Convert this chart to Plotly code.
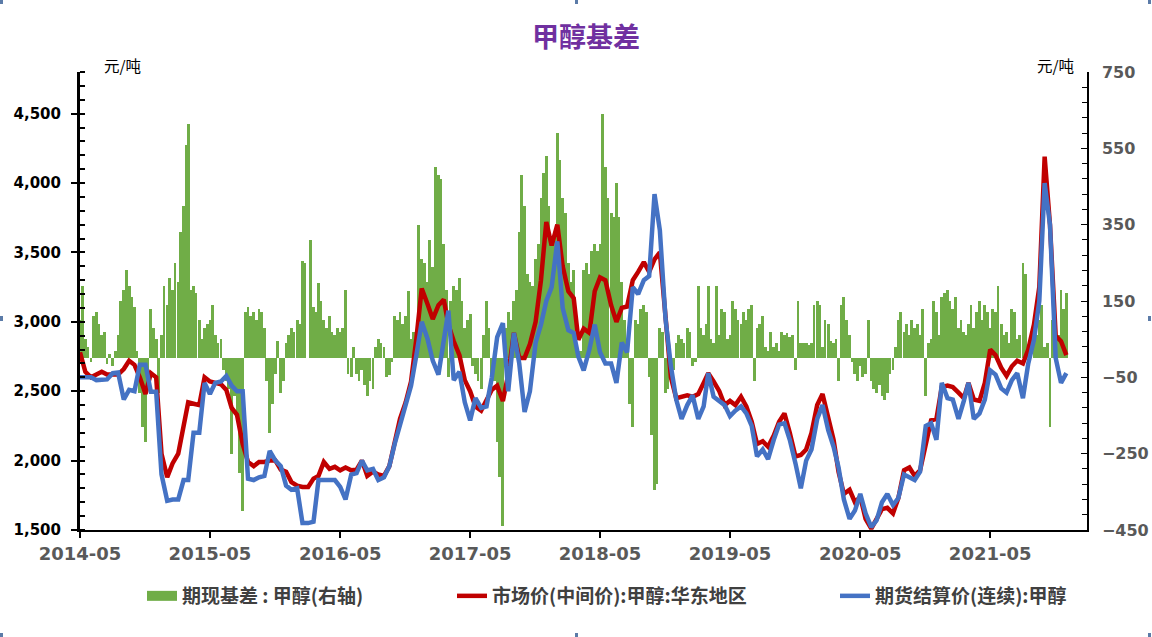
import pandas as pd
import plotly.graph_objects as go

# ---------------- data ----------------
title_text = "甲醇基差"
basis_name = "期现基差 : 甲醇(右轴)"
spot_name = "市场价(中间价):甲醇:华东地区"
fut_name = "期货结算价(连续):甲醇"
unit_text = "元/吨"
first_month = "2014-05-01"

# 市场价(中间价):甲醇:华东地区, two readings per month (1st, 16th)
spot = [
    2780, 2640, 2600, 2620, 2640, 2620, 2620, 2620, 2660, 2720, 2690, 2600,
    2480, 2630, 2600, 2050, 1880, 1980, 2050, 2250, 2420, 2410, 2400, 2600,
    2570, 2560, 2550, 2510, 2380, 2330, 2120, 1990, 1960, 1990, 1990, 2000,
    2000, 1935, 1920, 1845, 1820, 1810, 1810, 1870, 1890, 1990, 1940, 1955,
    1930, 1950, 1930, 1935, 2000, 1890, 1920, 1900, 1890, 1960, 2150, 2300,
    2420, 2570, 2880, 3240, 3130, 3020, 3120, 3160, 2980, 2860, 2760, 2580,
    2500, 2390, 2360, 2440, 2510, 2540, 2430, 2620, 2920, 2740, 2740, 2840,
    3000, 3300, 3720, 3550, 3700, 3400, 3220, 3170, 2870, 2950, 2920, 3220,
    3320, 3300, 3120, 3000, 3100, 3110, 3300, 3360, 3430, 3360, 3450, 3500,
    3000, 2600, 2450, 2460, 2470, 2460, 2480, 2560, 2630, 2570, 2500, 2400,
    2430, 2400, 2460, 2390, 2280, 2120, 2140, 2100, 2180, 2280, 2340, 2200,
    2030, 2040, 2080, 2200, 2400, 2480, 2300, 2150, 1920, 1760, 1790, 1700,
    1740, 1580, 1510, 1580, 1650, 1660, 1620, 1730, 1930, 1950, 1890, 1930,
    2100, 2290, 2300, 2530, 2540, 2530, 2490, 2450, 2560, 2440, 2430, 2560,
    2800, 2760, 2670, 2610, 2680, 2720, 2700, 2800, 2980, 3250, 4190, 3700,
    2900, 2860, 2760,
]

# 期货结算价(连续):甲醇, two readings per month
futures = [
    2600, 2600, 2600, 2580, 2585, 2585, 2630, 2635, 2440, 2510, 2500, 2690,
    2690, 2497, 2497, 1900, 1710, 1720, 1720, 1860, 1860, 2200, 2200, 2560,
    2480, 2560, 2570, 2610, 2540, 2500, 2500, 1870, 1860, 1880, 1890, 2070,
    2000, 1960, 1820, 1790, 1800, 1550, 1550, 1560, 1860, 1860, 1860, 1860,
    1810, 1720, 1900, 1910, 2000, 1930, 1940, 1860, 1880, 1960, 2120, 2260,
    2380, 2540, 2760, 3000, 2880, 2720, 2620, 2850, 3080, 2580, 2640, 2420,
    2290, 2450, 2380, 2390, 2600, 2890, 2990, 2500, 2920, 2700, 2350, 2500,
    2850, 2980, 3150, 3250, 3580, 3100, 2940, 2920, 2750, 2650, 2800, 2980,
    2780, 2700, 2700, 2560, 2850, 2780, 3250, 3200, 3300, 3330, 3920, 3660,
    3020, 2680, 2440, 2300, 2400, 2470, 2300, 2390, 2630, 2460, 2430, 2400,
    2320, 2360, 2390, 2340, 2250, 2030, 2080, 2010, 2150, 2260, 2270, 2150,
    1980, 1800, 2000, 2080, 2300, 2400, 2220, 2100, 1950, 1720, 1580, 1640,
    1760, 1620, 1520, 1570, 1700, 1760, 1680, 1730, 1900, 1880, 1860, 1920,
    2250, 2270, 2150, 2560, 2450, 2440, 2300, 2430, 2560, 2300, 2340, 2440,
    2650, 2620, 2520, 2490, 2580, 2630, 2450, 2700, 2870, 3150, 4000, 3700,
    2740, 2560, 2630,
]

# 期现基差 : 甲醇, four readings per month
basis = [
    100, 190, 50, 30, -10, 110, 120, 90, 60, 70, -15, 10,
    -20, 20, 60, 150, 180, 230, 190, 160, 135, 20, -90, -180,
    -220, -60, 130, 80, 50, -90, 60, 190, 140, 210, 180, 250,
    200, 330, 400, 560, 615, 180, 190, 170, 100, 50, 80, 90,
    100, 140, 60, 40, 50, -30, -60, -80, -250, -100, -150, -300,
    -400, 120, 135, 110, 120, 100, 130, 120, 80, -60, -195, -120,
    -40, 45, -90, -60, 40, 60, 80, 70, 100, 90, 255, 250,
    0, 310, 135, 120, 197, 150, 100, 80, 110, 70, 60, 80,
    70, 80, 180, -40, -50, 30, -40, -60, -30, -70, -100, -60,
    -80, 30, 50, 40, 30, -50, -45, -10, 110, 100, 120, 90,
    110, 175, 50, 70, 40, 350, 260, 250, 200, 310, 240, 500,
    480, 470, 300, 180, -50, 150, 190, 180, 210, 150, 80, 100,
    115, -20, -40, -60, -80, 60, 150, 80, -40, -60, -220, -310,
    -440, 80, 120, 100, 150, 180, 330, 480, 400, 220, 200, 190,
    260, 300, 420, 485, 530, 400, 300, 320, 590, 520, 420, 380,
    250, 200, 230, 30, 10, 20, 230, 250, 220, 280, 300, 280,
    300, 640, 500, 420, 380, 370, 460, 370, 200, 100, 30, -120,
    -180, 100, 90, 130, 140, 120, -50, -200, -345, -330, 80, 70,
    -90, -80, -40, -30, 40, 60, 50, 40, 80, 70, -20, -10,
    190, 80, 60, 90, 190, 50, 40, 190, 60, 130, 120, 50,
    60, 150, 130, 100, 90, 120, 100, 130, 140, -60, 80, 90,
    110, 30, 20, 70, 30, 40, 20, 70, 60, 65, 55, 60,
    -30, 150, 40, 40, 40, 35, 40, 140, 150, 140, 30, 100,
    90, 45, 40, 50, -60, 140, 160, 100, 60, -10, -40, -60,
    -20, -50, -40, 100, -60, -80, -90, -70, -100, -110, -90, -40,
    -30, 30, 100, 120, 70, 90, 60, 100, 80, 90, 60, 130,
    -100, 40, 50, 150, 120, 60, 160, 170, 180, 150, 130, 160,
    80, 100, 70, 60, 90, 140, 80, 120, 150, 100, 140, 120,
    80, 130, 120, 190, 90, 60, 70, 40, 130, 120, 50, 60,
    250, 220, 30, 20, 40, 60, 100, 140, 30, 40, -180, 100,
    40, 60, 180, 130, 170,
]

left_ticks = [1500, 2000, 2500, 3000, 3500, 4000, 4500]
right_ticks = [-450, -250, -50, 150, 350, 550, 750]

# ---------------- dates ----------------
months = pd.date_range(first_month, periods=100, freq="MS")


def make_dates(n, offsets):
    per = len(offsets)
    return [months[i // per] + pd.Timedelta(days=offsets[i % per]) for i in range(n)]


line_dates = make_dates(len(spot), [0, 15])
fut_dates = make_dates(len(futures), [0, 15])
bar_dates = make_dates(len(basis), [0, 7, 15, 22])

# ---------------- geometry helpers (layout only) ----------------
W, H = 1152, 637
PL, PR, PT, PB = 80, 1087, 72, 530


def px_x(px):
    return (px - PL) / (PR - PL)


def px_y(py):
    return (PB - py) / (PB - PT)


CJK = "Noto Sans CJK SC"
NUM = "DejaVu Sans"
GREEN, RED, BLUE = "#70AD47", "#C00000", "#4472C4"

fig = go.Figure()
fig.add_trace(go.Bar(
    x=bar_dates, y=basis, name=basis_name, yaxis="y",
    marker=dict(color=GREEN, line=dict(width=0)),
    width=8 * 86400000, legendgroup="basis", showlegend=False,
))
# legend entry for the bar series (wide swatch like the original)
fig.add_trace(go.Scatter(
    x=[None], y=[None], name=basis_name, yaxis="y", mode="lines",
    line=dict(color=GREEN, width=14), legendgroup="basis", legend="legend",
    hoverinfo="skip",
))
fig.add_trace(go.Scatter(
    x=line_dates, y=spot, name=spot_name, yaxis="y2", mode="lines",
    line=dict(color=RED, width=4.5), legend="legend2",
))
fig.add_trace(go.Scatter(
    x=fut_dates, y=futures, name=fut_name, yaxis="y2", mode="lines",
    line=dict(color=BLUE, width=4.5), legend="legend3",
))

legend_font = dict(family=CJK, size=19, color="#404040", weight="bold")
leg_common = dict(orientation="h", xanchor="left", yanchor="middle",
                  bgcolor="rgba(0,0,0,0)", font=legend_font, itemwidth=30)

shapes = []
handle_color = "#5B7BA8"
for hx in (0, 575, 1148):
    for hy in (0, 633):
        shapes.append(dict(type="rect", xref="paper", yref="paper",
                           x0=px_x(hx), x1=px_x(hx + 3), y0=px_y(hy), y1=px_y(hy + 4),
                           fillcolor=handle_color, line=dict(width=0)))
for hx in (0, 1148):
    shapes.append(dict(type="rect", xref="paper", yref="paper",
                       x0=px_x(hx), x1=px_x(hx + 3), y0=px_y(316), y1=px_y(321),
                       fillcolor=handle_color, line=dict(width=0)))

fig.update_layout(
    width=W, height=H,
    margin=dict(l=PL, r=W - PR, t=PT, b=H - PB, autoexpand=False),
    paper_bgcolor="white", plot_bgcolor="white",
    title=dict(text=title_text, x=586 / W, xanchor="center", y=1 - 38 / H, yanchor="middle",
               font=dict(family=CJK, size=27, color="#7030A0", weight="bold")),
    bargap=0,
    showlegend=True,
    xaxis=dict(type="date", range=["2014-05-01", "2022-01-28"], tick0="2014-05-01",
               dtick="M12", tickformat="%Y-%m", ticks="outside", ticklen=6, tickwidth=2,
               tickcolor="black", showline=True, linecolor="black", linewidth=2,
               showgrid=False, zeroline=False, automargin=False,
               tickfont=dict(family=NUM, size=18, color="#595959", weight="bold")),
    yaxis=dict(side="right", range=[-450, 750], tickvals=right_ticks,
               ticks="inside", ticklen=6, tickwidth=1, tickcolor="black",
               minor=dict(tick0=-450, dtick=40, ticks="inside", ticklen=5, tickcolor="black"),
               showline=True, linecolor="black", linewidth=1.5, showgrid=False,
               zeroline=False, ticklabelstandoff=10, automargin=False,
               tickfont=dict(family=NUM, size=16, color="#595959", weight="bold")),
    yaxis2=dict(overlaying="y", side="left", range=[1500, 4800], tickvals=left_ticks,
                tickformat=",", ticks="outside", ticklen=6, tickwidth=2, tickcolor="black",
                minor=dict(tick0=1500, dtick=100, ticks="inside", ticklen=5, tickcolor="black"),
                showline=True, linecolor="black", linewidth=3, showgrid=False,
                zeroline=False, ticklabelstandoff=7, automargin=False,
                tickfont=dict(family=NUM, size=15, color="black", weight="bold")),
    legend=dict(x=px_x(142), y=px_y(596), **leg_common),
    legend2=dict(x=px_x(452), y=px_y(596), **leg_common),
    legend3=dict(x=px_x(835), y=px_y(596), **leg_common),
    annotations=[
        dict(text=unit_text, xref="paper", yref="paper", x=px_x(122), y=px_y(65),
             xanchor="center", yanchor="middle", showarrow=False,
             font=dict(family=CJK, size=15.5, color="black")),
        dict(text=unit_text, xref="paper", yref="paper", x=px_x(1055), y=px_y(65),
             xanchor="center", yanchor="middle", showarrow=False,
             font=dict(family=CJK, size=15.5, color="black")),
    ],
    shapes=shapes,
)

fig.write_html(
    "out.html",
    config={"displayModeBar": False},
    post_script="document.body.style.margin='0';document.body.style.overflow='hidden';",
)
